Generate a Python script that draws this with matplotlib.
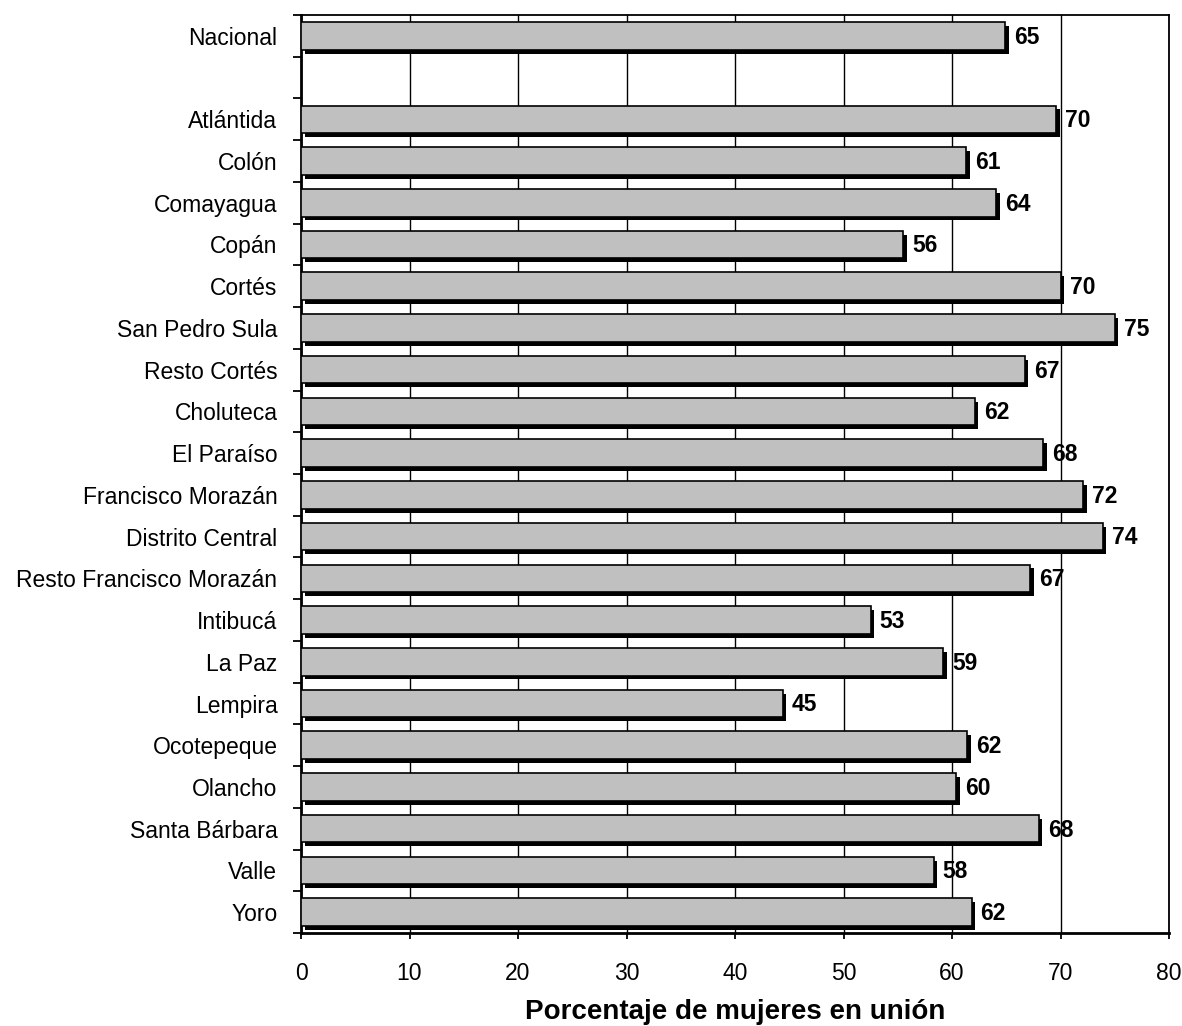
import matplotlib
matplotlib.use("Agg")
import matplotlib.pyplot as plt
import matplotlib.patheffects as pe
import numpy as np

categories = ["Nacional", "Atlántida", "Colón", "Comayagua", "Copán", "Cortés",
              "San Pedro Sula", "Resto Cortés", "Choluteca", "El Paraíso",
              "Francisco Morazán", "Distrito Central", "Resto Francisco Morazán",
              "Intibucá", "La Paz", "Lempira", "Ocotepeque", "Olancho",
              "Santa Bárbara", "Valle", "Yoro"]
values = [64.9, 69.6, 61.3, 64.1, 55.5, 70.0, 75.0, 66.7, 62.1, 68.4,
          72.1, 73.9, 67.2, 52.5, 59.2, 44.4, 61.4, 60.4, 68.0, 58.3, 61.8]
labels = [65, 70, 61, 64, 56, 70, 75, 67, 62, 68, 72, 74, 67, 53, 59, 45,
          62, 60, 68, 58, 62]
xticks = [0, 10, 20, 30, 40, 50, 60, 70, 80]

plt.rcParams['font.family'] = ['Liberation Sans', 'DejaVu Sans']

fig = plt.figure(figsize=(11.82, 10.26), dpi=100)
ax = fig.add_axes([301/1182, 1 - 933/1026, (1169-301)/1182, (933-15)/1026])

# Nacional at slot 0, blank slot 1, departments from slot 2
ypos = [0] + list(range(2, 2 + len(categories) - 1))
nslots = ypos[-1] + 1

bars = ax.barh(ypos, values, height=0.66, color='#C0C0C0', edgecolor='black',
               linewidth=1.2, zorder=3)
for b in bars:
    b.set_path_effects([pe.SimplePatchShadow(offset=(2.6, -2.8), shadow_rgbFace='black', alpha=1.0),
                        pe.Normal()])

for y, v, lab in zip(ypos, values, labels):
    ax.annotate(str(lab), xy=(v, y), xytext=(6.5, -1), textcoords='offset points',
                ha='left', va='center', fontsize=16.5, fontweight='bold', zorder=4)

ax.set_xlim(0, 80)
ax.set_ylim(nslots - 0.5, -0.5)
ax.set_xticks(xticks)
ax.set_xticklabels([str(t) for t in xticks], fontsize=16.5)
ax.xaxis.grid(True, color='black', linewidth=1.0, zorder=0)
ax.set_axisbelow(True)

ax.set_yticks(np.arange(-0.5, nslots, 1.0))
ax.set_yticklabels([])
ax.set_yticks(ypos, minor=True)
ax.set_yticklabels(categories, minor=True, fontsize=16.5)
ax.tick_params(axis='y', which='minor', length=0, pad=17)
ax.tick_params(axis='y', which='major', length=6, width=1.3, direction='out')
ax.tick_params(axis='x', which='major', length=4, width=1.3, direction='out', pad=17)

for s in ax.spines.values():
    s.set_linewidth(1.3)
ax.spines['left'].set_linewidth(2)
ax.spines['bottom'].set_linewidth(2)

ax.set_xlabel("Porcentaje de mujeres en unión", fontsize=20, fontweight='bold', labelpad=10)

fig.savefig("out.png", dpi=100)
